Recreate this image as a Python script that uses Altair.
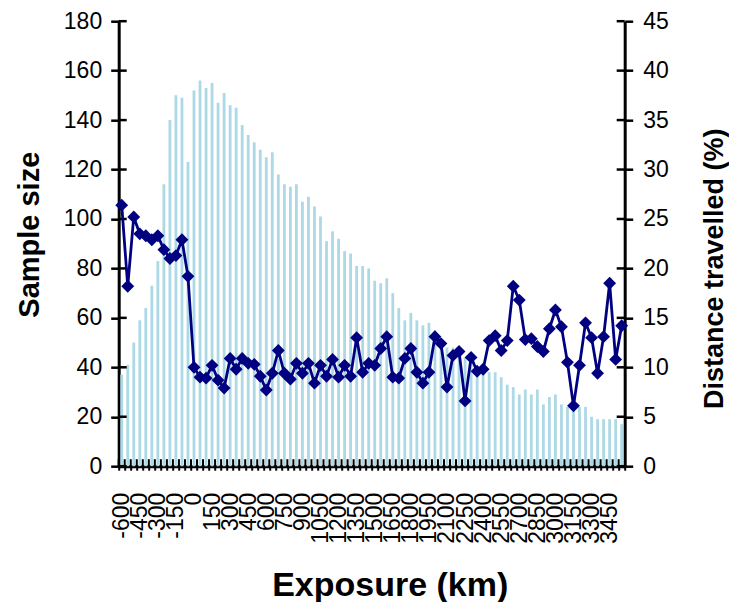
import altair as alt
import pandas as pd

# ---- data ----
exposure_km = list(range(-600, 3551, 50))  # 84 categories

sample_size = [
    37, 41, 50, 59, 64, 73, 83, 114, 140, 150,
    149, 123, 152, 156, 153, 155, 147, 151, 146, 145,
    138, 134, 131, 128, 125, 127, 118, 114, 113, 114,
    107, 109, 105, 101, 91, 95, 92, 87, 86, 81,
    81, 80, 75, 74, 76, 70, 64, 59, 62, 59,
    57, 58, 55, 51, 48, 48, 47, 44, 42, 40,
    39, 38, 38, 36, 33, 32, 29, 31, 29, 31,
    25, 28, 29, 25, 24, 23, 24, 24, 20, 19,
    19, 19, 19, 17,
]

distance_travelled = [
    26.4, 18.2, 25.2, 23.5, 23.3, 22.9, 23.3, 21.9, 21.0, 21.3,
    22.9, 19.2, 10.0, 9.0, 8.9, 10.2, 8.7, 7.9, 10.9, 9.8,
    10.9, 10.4, 10.3, 9.1, 7.7, 9.4, 11.7, 9.4, 8.8, 10.4,
    9.4, 10.4, 8.4, 10.2, 9.1, 10.8, 9.0, 10.2, 9.1, 13.0,
    9.5, 10.4, 10.2, 11.9, 13.1, 9.0, 8.9, 10.9, 11.9, 9.5,
    8.4, 9.5, 13.1, 12.4, 8.0, 11.2, 11.6, 6.6, 11.0, 9.6,
    9.8, 12.7, 13.2, 11.7, 12.7, 18.2, 16.8, 12.8, 12.9, 12.1,
    11.6, 13.9, 15.8, 14.1, 10.5, 6.1, 10.2, 14.5, 13.0, 9.4,
    13.1, 18.5, 10.8, 14.2,
]

left_ticks = [0, 20, 40, 60, 80, 100, 120, 140, 160, 180]
right_ticks = [0, 5, 10, 15, 20, 25, 30, 35, 40, 45]

df = pd.DataFrame({"exposure": exposure_km, "n": sample_size, "d": distance_travelled})
df_lt = pd.DataFrame({"n": left_ticks})
df_rt = pd.DataFrame({"d": right_ticks})

W, H = 506, 445
FONT = "Liberation Sans"
NAVY = "#000080"
BAR = "#add8e6"

xscale = alt.Scale(paddingInner=0, paddingOuter=0)
x_axis = alt.Axis(
    title="Exposure (km)",
    labelExpr="datum.value % 150 == 0 ? datum.label : ''",
    labelAngle=270, labelOverlap=False, labelFontSize=23, labelFont=FONT,
    labelColor="black", labelPadding=22,
    tickBand="extent", tickSize=4, tickWidth=2, tickColor="black",
    domainWidth=3, domainColor="black", grid=False,
    titleFont=FONT, titleFontSize=34, titleFontWeight="bold", titleColor="black",
    titleX=271, titleY=119.5, titleBaseline="middle", titleAlign="center",
)

yl_scale = alt.Scale(domain=[0, 180], nice=False)
yl_axis = alt.Axis(
    orient="left", values=left_ticks, title="Sample size", grid=False,
    tickSize=8, tickWidth=2.5, tickColor="black", domainWidth=3, domainColor="black",
    labelFont=FONT, labelFontSize=23, labelColor="black", labelPadding=9,
    titleFont=FONT, titleFontSize=29, titleFontWeight="bold", titleColor="black",
    titleAngle=270, titleX=-89, titleY=213, titleBaseline="middle", titleAlign="center",
)

yr_scale = alt.Scale(domain=[0, 45], nice=False)
yr_axis = alt.Axis(
    orient="right", values=right_ticks, title="Distance travelled (%)", grid=False,
    tickSize=8, tickWidth=2.5, tickColor="black", domainWidth=3, domainColor="black",
    labelFont=FONT, labelFontSize=23, labelColor="black", labelPadding=10,
    titleFont=FONT, titleFontSize=27, titleFontWeight="bold", titleColor="black",
    titleAngle=270, titleX=90, titleY=247, titleBaseline="middle", titleAlign="center",
)

X = alt.X("exposure:O", scale=xscale, axis=x_axis, sort=None)

bars = alt.Chart(df).mark_bar(width=2.8, color=BAR).encode(
    x=X,
    y=alt.Y("n:Q", scale=yl_scale, axis=yl_axis),
)

x_inner_ticks = alt.Chart(df).mark_rule(color="black", strokeWidth=2).encode(
    x=alt.X("exposure:O", scale=xscale, axis=x_axis, sort=None, bandPosition=0),
    y=alt.value(H - 7), y2=alt.value(H),
)

yl_inner_ticks = alt.Chart(df_lt).mark_rule(color="black", strokeWidth=2.5).encode(
    y=alt.Y("n:Q", scale=yl_scale, axis=yl_axis),
    x=alt.value(0), x2=alt.value(8),
)

line = alt.Chart(df).mark_line(color=NAVY, strokeWidth=2.8).encode(
    x=X,
    y=alt.Y("d:Q", scale=yr_scale, axis=yr_axis),
)
points = alt.Chart(df).mark_point(shape="diamond", filled=True, size=165,
                                   color=NAVY, opacity=1).encode(
    x=X,
    y=alt.Y("d:Q", scale=yr_scale, axis=yr_axis),
)
yr_inner_ticks = alt.Chart(df_rt).mark_rule(color="black", strokeWidth=2.5).encode(
    y=alt.Y("d:Q", scale=yr_scale, axis=yr_axis),
    x=alt.value(W - 8), x2=alt.value(W),
)

left_layer = alt.layer(bars, x_inner_ticks, yl_inner_ticks)
right_layer = alt.layer(line, points, yr_inner_ticks)

chart = alt.layer(left_layer, right_layer).resolve_scale(y="independent").properties(
    width=W, height=H,
    autosize=alt.AutoSizeParams(type="none"),
    padding={"left": 110.7, "top": 13.2, "right": 104, "bottom": 136},
    background="white",
).configure_view(stroke=None)

chart.save("out.html", embed_options={"renderer": "svg", "actions": False})
